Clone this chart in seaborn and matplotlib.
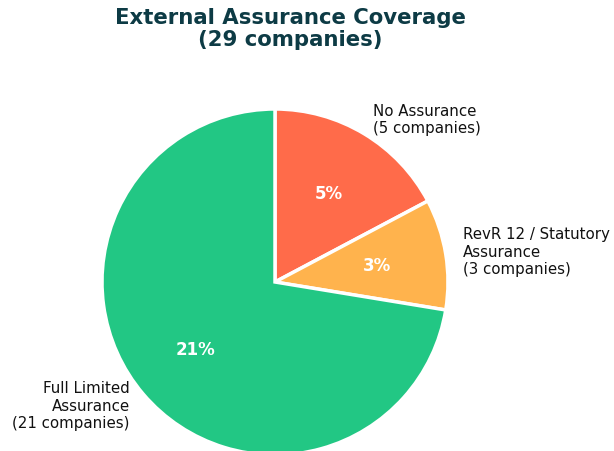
import matplotlib
matplotlib.use("Agg")
import matplotlib.pyplot as plt
import seaborn as sns

sns.set_theme(style="white")
plt.rcParams["font.family"] = ["DejaVu Sans"]

categories = ["No Assurance", "RevR 12 / Statutory\nAssurance", "Full Limited\nAssurance"]
counts = [5, 3, 21]
colors = ["#FF6B4A", "#FFB34D", "#22C784"]
total = sum(counts)

labels = [f"{c}\n({n} companies)" for c, n in zip(categories, counts)]

fig = plt.figure(figsize=(6.14, 4.52), dpi=100)
cx, cy, r = 275, 283, 173
ax = fig.add_axes([(cx - r) / 614, (452 - cy - r) / 452, 2 * r / 614, 2 * r / 452])

wedges, texts, autotexts = ax.pie(
    counts,
    labels=labels,
    colors=colors,
    startangle=90,
    counterclock=False,
    autopct=lambda p: f"{round(p * total / 100)}%",
    pctdistance=0.6,
    labeldistance=1.1,
    wedgeprops=dict(edgecolor="white", linewidth=2.5),
    textprops=dict(fontsize=10.8, color="#111111"),
)
for t in autotexts:
    t.set_color("white")
    t.set_fontweight("bold")
    t.set_fontsize(12)

ax.set_xlim(-1, 1)
ax.set_ylim(-1, 1)
ax.set_aspect("equal")
ax.axis("off")

fig.text(290 / 614, 1 - 29 / 452, "External Assurance Coverage\n(29 companies)",
         ha="center", va="center", fontsize=15.3, fontweight="bold", color="#0D3B45",
         linespacing=1.12)

fig.savefig("out.png", dpi=100)
